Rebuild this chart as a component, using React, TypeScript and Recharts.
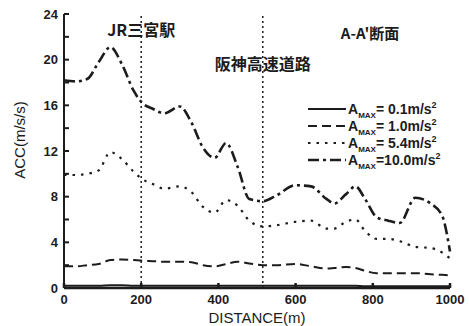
import { LineChart, Line, XAxis, YAxis, ReferenceLine, ReferenceDot, Legend, Label } from 'recharts';

// distance along section A-A' (m)
const distance = [0, 30, 60, 90, 120, 150, 180, 200, 230, 260, 300, 330, 360, 390, 420, 450, 480, 515, 550, 600, 640, 680, 700, 730, 755, 780, 810, 840, 870, 910, 950, 980, 1000];

// peak ground acceleration (m/s/s) per input level
const amax01 = [0.2, 0.2, 0.2, 0.2, 0.25, 0.25, 0.2, 0.2, 0.2, 0.2, 0.2, 0.2, 0.2, 0.2, 0.2, 0.2, 0.2, 0.2, 0.2, 0.2, 0.2, 0.2, 0.2, 0.2, 0.2, 0.15, 0.15, 0.15, 0.15, 0.15, 0.15, 0.15, 0.15];
const amax10 = [1.9, 1.9, 2.0, 2.1, 2.45, 2.5, 2.45, 2.4, 2.35, 2.3, 2.3, 2.25, 2.0, 1.9, 2.1, 2.3, 2.15, 2.0, 2.0, 2.1, 1.9, 1.7, 1.75, 1.85, 1.75, 1.5, 1.3, 1.3, 1.3, 1.3, 1.2, 1.15, 1.1];
const amax54 = [9.9, 9.9, 10.0, 10.3, 11.9, 11.3, 10.2, 9.6, 9.1, 8.7, 8.9, 8.4, 7.1, 6.6, 7.7, 7.2, 5.9, 5.4, 5.5, 5.8, 5.9, 5.2, 5.2, 5.8, 6.0, 5.0, 4.3, 4.3, 4.1, 3.6, 3.5, 3.1, 2.6];
const amax100 = [18.2, 18.1, 18.3, 19.8, 21.1, 19.6, 17.3, 16.3, 15.7, 15.3, 15.9, 14.5, 12.3, 11.4, 12.7, 10.6, 7.8, 7.6, 8.1, 9.0, 8.9, 7.8, 7.4, 8.2, 8.9, 7.8, 6.2, 5.9, 5.7, 7.9, 7.4, 6.3, 3.2];

const xTicks = [0, 200, 400, 600, 800, 1000];
const yTicks = [0, 2, 4, 6, 8, 10, 12, 14, 16, 18, 20, 22, 24];
const boundaries = [200, 515];

const data = distance.map((d, i) => ({
  d,
  a01: amax01[i],
  a10: amax10[i],
  a54: amax54[i],
  a100: amax100[i],
}));

const INK = '#1c1c1c';
const LATIN = '"Liberation Sans", Arial, sans-serif';
const CJK = '"Noto Sans CJK JP", "Noto Sans", sans-serif';

const series = [
  { key: 'a01', level: ' 0.1', dash: undefined, width: 2 },
  { key: 'a10', level: ' 1.0', dash: '9 5', width: 2 },
  { key: 'a54', level: ' 5.4', dash: '2.5 6', width: 2.2 },
  { key: 'a100', level: '10.0', dash: '11 4 3 4', width: 2.6 },
];

function LegendBox() {
  return (
    <div style={{ fontFamily: LATIN, fontWeight: 'bold', fontSize: 14, color: INK }}>
      {series.map((s) => (
        <div key={s.key} style={{ display: 'flex', alignItems: 'center', height: 17 }}>
          <svg width={38} height={8}>
            <line x1={0} x2={38} y1={4} y2={4} stroke={INK} strokeWidth={s.width} strokeDasharray={s.dash} />
          </svg>
          <span style={{ marginLeft: 2, whiteSpace: 'pre' }}>
            A<span style={{ fontSize: 8, position: 'relative', top: 4 }}>MAX</span>={s.level}m/s
            <span style={{ fontSize: 9, position: 'relative', top: -6 }}>2</span>
          </span>
        </div>
      ))}
    </div>
  );
}

export default function App() {
  return (
    <div style={{ position: 'absolute', left: 0, top: 0, background: '#fff' }}>
      <LineChart width={469} height={326} data={data} margin={{ top: 14, right: 19, left: 0, bottom: 0 }}>
        <XAxis
          dataKey="d"
          type="number"
          domain={[0, 1000]}
          ticks={xTicks}
          interval={0}
          height={38}
          stroke={INK}
          strokeWidth={2.5}
          tickSize={-5}
          tickMargin={12}
          tick={{ fill: INK, fontSize: 13, fontWeight: 'bold', fontFamily: LATIN }}
        >
          <Label value="DISTANCE(m)" position="insideBottom" offset={3} fill={INK} fontSize={15} fontFamily={LATIN} />
        </XAxis>
        <XAxis xAxisId="top" orientation="top" type="number" domain={[0, 1000]} height={0} tick={false} tickLine={false} stroke={INK} strokeWidth={1.5} />
        <YAxis
          type="number"
          domain={[0, 24]}
          ticks={yTicks}
          interval={0}
          width={64}
          stroke={INK}
          strokeWidth={2}
          tickSize={-5}
          tickMargin={11}
          tickFormatter={(v: number) => (v % 4 === 0 ? String(v) : '')}
          tick={{ fill: INK, fontSize: 13, fontWeight: 'bold', fontFamily: LATIN }}
        >
          <Label
            content={({ viewBox }: any) => (
              <text
                x={viewBox.x + 19}
                y={viewBox.y + 126}
                transform={`rotate(-90, ${viewBox.x + 19}, ${viewBox.y + 126})`}
                textAnchor="middle"
                dominantBaseline="central"
                fill={INK}
                fontSize={15}
                fontFamily={LATIN}
              >
                ACC(m/s/s)
              </text>
            )}
          />
        </YAxis>
        <YAxis yAxisId="right" orientation="right" type="number" domain={[0, 24]} width={0} tick={false} tickLine={false} stroke={INK} strokeWidth={1.5} />

        <ReferenceLine x={boundaries[0]} stroke={INK} strokeWidth={1.5} strokeDasharray="2 3">
          <Label value="JR三宮駅" position="insideTop" offset={11} fill={INK} fontSize={16} fontWeight="bold" fontFamily={CJK} />
        </ReferenceLine>
        <ReferenceLine x={boundaries[1]} stroke={INK} strokeWidth={1.5} strokeDasharray="2 3">
          <Label value="阪神高速道路" position="insideTop" offset={45} fill={INK} fontSize={16} fontWeight="bold" fontFamily={CJK} />
        </ReferenceLine>
        <ReferenceDot x={793} y={22.3} r={0} fill="none" stroke="none">
          <Label value="A-A'断面" position="center" fill={INK} fontSize={15} fontWeight="bold" fontFamily={CJK} />
        </ReferenceDot>

        {series.map((s) => (
          <Line
            key={s.key}
            dataKey={s.key}
            type="monotone"
            stroke={INK}
            strokeWidth={s.width}
            strokeDasharray={s.dash}
            dot={false}
            activeDot={false}
            isAnimationActive={false}
          />
        ))}
        <Legend
          layout="vertical"
          align="center"
          verticalAlign="middle"
          content={<LegendBox />}
          wrapperStyle={{ position: 'absolute', left: 308, top: 100, width: 'auto' }}
        />
      </LineChart>
    </div>
  );
}
